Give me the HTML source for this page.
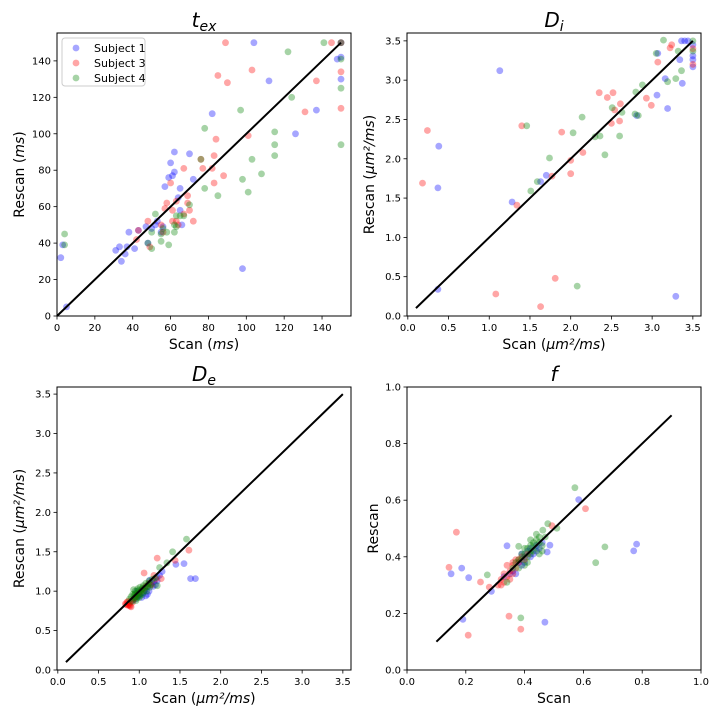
<!DOCTYPE html>
<html><head><meta charset="utf-8">
<style>
html,body{margin:0;padding:0;background:#fff;}
svg{display:block;font-family:"DejaVu Sans","Liberation Sans",sans-serif;}
</style></head>
<body>
<svg id="fig" width="720" height="720" viewBox="0 0 720 720"></svg>
<script>
// ---- t_ex data ----
const texBlue=[[2,32],[3,39],[5,5],[31,36],[33,38],[34,30],[36,34],[37,38],[38,46],[41,37],[43,47],[47,49],[48,40],[50,48],[52,50],[53,52],[55,46],[56,49],[57,71],[59,76],[60,84],[61,77],[62,90],[62,79],[64,65],[65,70],[65,58],[66,50],[70,89],[72,75],[82,111],[98,26],[104,150],[112,129],[126,100],[137,113],[148,141],[150,142],[150,130],[150,150]];
const texRed=[[43,47],[42,42],[48,52],[49,38],[55,50],[56,46],[57,59],[58,62],[60,73],[61,52],[61,58],[63,52],[63,63],[64,50],[67,56],[67,81],[69,66],[69,62],[70,58],[72,52],[76,86],[77,81],[82,81],[83,73],[83,88],[84,97],[85,132],[88,77],[89,150],[90,128],[101,99],[103,135],[131,112],[137,129],[145,150],[150,134],[150,114],[150,150]];
const texGreen=[[4,39],[4,45],[48,40],[50,37],[50,46],[52,56],[55,41],[55,45],[56,48],[58,46],[59,39],[62,46],[62,50],[63,49],[63,55],[65,55],[67,55],[70,61],[78,70],[78,103],[76,86],[85,66],[97,113],[98,75],[101,68],[103,86],[108,78],[115,101],[115,94],[115,88],[122,145],[124,120],[141,150],[150,125],[150,94],[150,141],[150,150]];
// ---- D_i data ----
const diBlue=[[1.13,3.12],[0.38,2.16],[0.37,1.63],[0.37,0.34],[1.28,1.45],[1.70,1.79],[1.63,1.71],[2.81,2.55],[3.06,2.81],[3.19,2.64],[3.07,3.34],[3.16,3.02],[3.37,2.96],[3.34,3.26],[3.29,0.25],[3.36,3.5],[3.40,3.5],[3.44,3.5],[3.5,3.31],[3.5,3.26],[3.5,3.17],[3.5,3.45]];
const diRed=[[0.18,1.69],[0.24,2.36],[1.08,0.28],[1.34,1.41],[1.40,2.42],[1.63,0.12],[1.77,1.78],[1.81,0.48],[1.89,2.34],[2.0,1.98],[2.0,1.81],[2.15,2.08],[2.35,2.84],[2.45,2.78],[2.52,2.84],[2.5,2.45],[2.54,2.62],[2.61,2.70],[2.6,2.48],[2.93,2.77],[2.99,2.68],[3.07,3.23],[3.22,3.41],[3.24,3.45],[3.5,3.4],[3.5,3.2]];
const diGreen=[[1.46,2.42],[1.51,1.59],[1.59,1.71],[1.74,2.01],[2.03,2.33],[2.14,2.53],[2.08,0.38],[2.30,2.28],[2.36,2.29],[2.42,2.05],[2.51,2.65],[2.63,2.59],[2.60,2.29],[2.79,2.57],[2.83,2.55],[2.80,2.85],[2.88,2.94],[3.05,3.34],[3.14,3.51],[3.19,2.98],[3.29,3.02],[3.32,3.37],[3.36,3.12],[3.5,3.5],[3.5,3.37]];
// ---- D_e data ----
const deBlue=[[0.92,0.88],[0.95,0.9],[0.98,0.93],[1.0,0.96],[1.03,0.92],[1.05,0.98],[1.07,1.02],[1.1,1.05],[1.12,1.0],[1.15,1.1],[1.18,1.12],[1.2,1.08],[1.22,1.18],[1.25,1.2],[1.28,1.25],[1.45,1.34],[1.55,1.35],[1.63,1.16],[1.69,1.16],[1.0,0.95],[0.97,1.0],[1.1,0.96],[1.13,1.14],[1.17,1.06],[1.08,0.94],[1.22,1.13]];
const deRed=[[0.83,0.84],[0.85,0.86],[0.86,0.82],[0.88,0.85],[0.89,0.81],[0.9,0.88],[0.92,0.86],[0.93,0.9],[0.95,0.92],[0.97,0.95],[0.99,0.97],[1.02,1.0],[1.05,1.03],[1.08,1.06],[1.12,1.1],[1.15,1.08],[1.2,1.15],[1.06,1.23],[1.22,1.42],[1.61,1.52],[1.44,1.39],[1.27,1.16],[0.87,0.83],[0.9,0.8],[0.84,0.83],[0.86,0.87],[0.88,0.82],[1.18,1.2]];
const deGreen=[[0.88,0.9],[0.9,0.93],[0.92,0.96],[0.94,0.92],[0.95,1.0],[0.97,0.97],[0.98,1.03],[1.0,0.99],[1.01,1.05],[1.03,1.02],[1.05,1.07],[1.06,1.0],[1.08,1.1],[1.1,1.06],[1.12,1.13],[1.14,1.08],[1.16,1.15],[1.2,1.17],[1.22,1.07],[1.25,1.3],[1.34,1.36],[1.41,1.5],[1.58,1.66],[0.96,0.88],[1.0,0.92],[1.04,0.96],[0.93,1.02],[1.09,1.0],[0.91,0.87],[0.94,0.95],[0.96,0.93],[0.99,1.01],[1.02,0.97],[1.04,1.04],[1.07,1.04],[1.11,1.09],[0.97,0.91],[1.01,0.94],[1.13,1.05],[0.95,0.97]];
// ---- f data ----
const fBlue=[[0.15,0.34],[0.186,0.36],[0.21,0.326],[0.287,0.278],[0.19,0.179],[0.34,0.439],[0.469,0.169],[0.584,0.602],[0.771,0.421],[0.781,0.445],[0.486,0.441],[0.477,0.417],[0.33,0.33],[0.35,0.34],[0.37,0.34],[0.38,0.38],[0.39,0.37],[0.4,0.4],[0.41,0.42],[0.42,0.43],[0.43,0.41],[0.44,0.44],[0.45,0.43],[0.46,0.45],[0.39,0.41],[0.36,0.35],[0.42,0.4],[0.44,0.42],[0.4,0.38]];
const fRed=[[0.168,0.487],[0.143,0.363],[0.25,0.311],[0.28,0.293],[0.208,0.123],[0.347,0.19],[0.387,0.144],[0.607,0.57],[0.493,0.51],[0.31,0.30],[0.32,0.32],[0.33,0.31],[0.34,0.33],[0.35,0.35],[0.36,0.37],[0.37,0.36],[0.38,0.38],[0.39,0.4],[0.37,0.39],[0.34,0.37],[0.33,0.34],[0.36,0.34],[0.40,0.39],[0.41,0.41],[0.32,0.3],[0.35,0.32],[0.38,0.39],[0.36,0.38]];
const fGreen=[[0.273,0.336],[0.387,0.184],[0.571,0.644],[0.642,0.379],[0.673,0.435],[0.479,0.517],[0.51,0.501],[0.462,0.494],[0.38,0.437],[0.34,0.31],[0.36,0.36],[0.37,0.38],[0.38,0.36],[0.39,0.41],[0.4,0.43],[0.41,0.4],[0.42,0.44],[0.43,0.42],[0.44,0.46],[0.45,0.41],[0.46,0.44],[0.44,0.48],[0.42,0.46],[0.47,0.47],[0.41,0.38],[0.43,0.45],[0.45,0.47],[0.4,0.37],[0.39,0.39],[0.4,0.41],[0.41,0.43],[0.42,0.41],[0.43,0.44],[0.44,0.43],[0.45,0.45],[0.38,0.39],[0.42,0.42],[0.46,0.42]];
const texTicks=[0,20,40,60,80,100,120,140];
const dTicks=[0,0.5,1,1.5,2,2.5,3,3.5];
const fTicks=[0,0.2,0.4,0.6,0.8,1.0];
const seriesNames=["Subject 1","Subject 3","Subject 4"];
const colors=["#0000ff","#ff0000","#008000"];

const NS="http://www.w3.org/2000/svg";
const fig=document.getElementById('fig');
function mk(tag,attrs,parent){const e=document.createElementNS(NS,tag);for(const k in attrs)e.setAttribute(k,attrs[k]);(parent||fig).appendChild(e);return e;}

const panels=[
 {key:"tex",L:57,R:351,T:33,B:316,xmin:0,xmax:155.3,ymin:0,ymax:155.3,xt:texTicks,yt:texTicks,fmt:v=>String(v),series:[texBlue,texRed,texGreen],line:[0,150],title:["t","ex"],xl:["Scan (","ms",")"],yl:["Rescan (","ms",")"],legend:true},
 {key:"di",L:407,R:701,T:33,B:316,xmin:-0.01,xmax:3.6,ymin:0,ymax:3.6,xt:dTicks,yt:dTicks,fmt:v=>v.toFixed(1),series:[diBlue,diRed,diGreen],line:[0.1,3.5],title:["D","i"],xl:["Scan (","µm²/ms",")"],yl:["Rescan (","µm²/ms",")"]},
 {key:"de",L:57,R:351,T:387,B:670,xmin:-0.01,xmax:3.6,ymin:0,ymax:3.59,xt:dTicks,yt:dTicks,fmt:v=>v.toFixed(1),series:[deBlue,deRed,deGreen],line:[0.1,3.5],title:["D","e"],xl:["Scan (","µm²/ms",")"],yl:["Rescan (","µm²/ms",")"]},
 {key:"f",L:407,R:701,T:387,B:670,xmin:0,xmax:1,ymin:0,ymax:1,xt:fTicks,yt:fTicks,fmt:v=>v.toFixed(1),series:[fBlue,fRed,fGreen],line:[0.1,0.9],title:["f",""],xl:["Scan"],yl:["Rescan"]}
];

panels.forEach(p=>{
 const g=mk('g',{});
 
 
 const sx=v=>p.L+(v-p.xmin)/(p.xmax-p.xmin)*(p.R-p.L);
 const sy=v=>p.B-(v-p.ymin)/(p.ymax-p.ymin)*(p.B-p.T);
 p.series.forEach((s,i)=>{
  s.forEach(d=>{
   const c=mk('circle',{cx:sx(d[0]).toFixed(1),cy:sy(d[1]).toFixed(1),r:3.4,fill:colors[i],'fill-opacity':0.35},g);
   
   
  });
 });
 const ln=mk('line',{x1:sx(p.line[0]),y1:sy(p.line[0]),x2:sx(p.line[1]),y2:sy(p.line[1]),stroke:'#000','stroke-width':2},g);
 
 
 const fr=mk('rect',{x:p.L,y:p.T,width:p.R-p.L,height:p.B-p.T,fill:'none',stroke:'#000','stroke-width':1},g);
 
 
 p.xt.forEach(v=>{
  const x=sx(v);
  mk('line',{x1:x,y1:p.B,x2:x,y2:p.B+3.5,stroke:'#000','stroke-width':0.8},g);
  const t=mk('text',{x:x,y:p.B+15,'font-size':10,'text-anchor':'middle',fill:'#000'},g);
  t.textContent=p.fmt(v);
  
  
 });
 p.yt.forEach(v=>{
  const y=sy(v);
  mk('line',{x1:p.L-3.5,y1:y,x2:p.L,y2:y,stroke:'#000','stroke-width':0.8},g);
  const t=mk('text',{x:p.L-6,y:y+3.5,'font-size':10,'text-anchor':'end',fill:'#000'},g);
  t.textContent=p.fmt(v);
  
  
 });
 const cx=(p.L+p.R)/2;
 const tt=mk('text',{x:cx,y:p.T-6,'font-size':20,'text-anchor':'middle','font-style':'italic',fill:'#000'},g);
 
 
 const t1=mk('tspan',{},tt);t1.textContent=p.title[0];
 if(p.title[1]){const t2=mk('tspan',{'font-size':14,dy:4},tt);t2.textContent=p.title[1];}
 function lab(parts,el){
  parts.forEach((s,i)=>{const ts=mk('tspan',i===1?{'font-style':'italic'}:{},el);ts.textContent=s;});
 }
 const xl=mk('text',{x:cx,y:p.B+33,'font-size':14,'text-anchor':'middle',fill:'#000'},g);
 
 
 lab(p.xl,xl);
 const ycx=p.L-(p.key==='f'?29:33), ycy=(p.T+p.B)/2;
 const yl=mk('text',{x:ycx,y:ycy,'font-size':14,'text-anchor':'middle',fill:'#000',transform:`rotate(-90 ${ycx} ${ycy})`},g);
 
 
 lab(p.yl,yl);
 if(p.legend){
  const lg=mk('g',{},g);
  
  
  mk('rect',{x:62,y:38,width:83,height:48,rx:3,fill:'#fff','fill-opacity':0.8,stroke:'#ccc','stroke-width':1},lg);
  seriesNames.forEach((n,i)=>{
   const y=48+i*15;
   const e=mk('g',{},lg);
   
   
   mk('circle',{cx:76,cy:y,r:3.4,fill:colors[i],'fill-opacity':0.35},e);
   const t=mk('text',{x:94,y:y+4,'font-size':11,fill:'#000'},e);
   t.textContent=n;
  });
 }
});
</script>
</body></html>
